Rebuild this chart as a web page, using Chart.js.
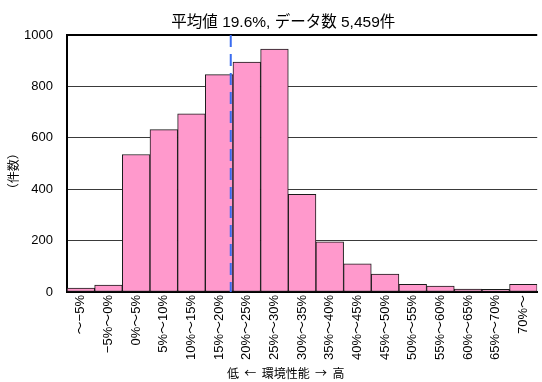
<!DOCTYPE html>
<html lang="ja">
<head>
<meta charset="utf-8">
<title>環境性能 分布</title>
<script src="https://cdn.jsdelivr.net/npm/chart.js@4/dist/chart.umd.min.js"></script>
<style>
  html, body { margin: 0; padding: 0; background: #fff; }
  canvas { display: block; }
</style>
</head>
<body>
<canvas id="histogram" width="542" height="382"></canvas>
<script>
// ---------------------------------------------------------------------
// DATA
// ---------------------------------------------------------------------
const categories = [
    '〜−5%', '−5%〜0%', '0%〜5%', '5%〜10%', '10%〜15%', '15%〜20%',
    '20%〜25%', '25%〜30%', '30%〜35%', '35%〜40%', '40%〜45%', '45%〜50%',
    '50%〜55%', '55%〜60%', '60%〜65%', '65%〜70%', '70%〜'
];
const counts = [15, 27, 535, 632, 693, 846, 895, 945, 380, 195, 110, 70, 30, 23, 11, 10, 30];
const yTicks = [0, 200, 400, 600, 800, 1000];

const meanValue = 19.6;      // %
const meanBinIndex = 5;      // the "15%〜20%" bin
const meanBinLow = 15;
const binSize = 5;

const titleText = '平均値 19.6%, データ数 5,459件';
const xTitleText = '低 ← 環境性能 → 高';
const yTitleText = '（件数）';

const FONT = '"Liberation Sans", Arial, "Noto Sans CJK JP", sans-serif';
const CJK_FONT = '"Noto Sans CJK JP", "Liberation Sans", sans-serif';

// ---------------------------------------------------------------------
// PLUGINS: mean line + text labels
// ---------------------------------------------------------------------
const meanLinePlugin = {
    id: 'meanLine',
    afterDatasetsDraw(chart) {
        const xs = chart.scales.x;
        const area = chart.chartArea;
        const binW = xs.getPixelForValue(1) - xs.getPixelForValue(0);
        const x = xs.getPixelForValue(meanBinIndex) + ((meanValue - meanBinLow) / binSize - 0.5) * binW;
        const ctx = chart.ctx;
        ctx.save();
        ctx.strokeStyle = '#3a6cf0';
        ctx.lineWidth = 2;
        ctx.setLineDash([12, 7]);
        ctx.beginPath();
        ctx.moveTo(x, area.top);
        ctx.lineTo(x, area.bottom);
        ctx.stroke();
        ctx.restore();
    }
};

const textPlugin = {
    id: 'texts',
    afterDraw(chart) {
        const ctx = chart.ctx;
        const area = chart.chartArea;
        const w = area.right - area.left;
        ctx.save();
        ctx.fillStyle = '#000';
        ctx.textAlign = 'center';
        ctx.textBaseline = 'middle';

        // main title
        ctx.font = '15.5px ' + FONT;
        ctx.fillText(titleText, area.left + w * 0.46, 23);

        // x axis title
        ctx.font = '12px ' + CJK_FONT;
        ctx.fillText(xTitleText.replace(/ /g, '  '), area.left + w * 0.465, 373);

        // y axis title (rotated)
        ctx.translate(13, area.top + (area.bottom - area.top) * 0.53);
        ctx.rotate(-Math.PI / 2);
        ctx.fillText(yTitleText, 0, 0);
        ctx.restore();
    }
};

// ---------------------------------------------------------------------
// CHART
// ---------------------------------------------------------------------
new Chart(document.getElementById('histogram'), {
    type: 'bar',
    data: {
        labels: categories,
        datasets: [{
            data: counts,
            backgroundColor: '#ff99cc',
            borderColor: '#1a1a1a',
            borderWidth: 1,
            borderSkipped: false,
            barPercentage: 1,
            categoryPercentage: 1
        }]
    },
    options: {
        responsive: false,
        animation: false,
        layout: { padding: { top: 35, right: 0, left: 0, bottom: 0 } },
        plugins: {
            legend: { display: false },
            title: { display: false },
            tooltip: { enabled: false }
        },
        scales: {
            x: {
                grid: { display: false, drawTicks: false },
                border: { display: true, color: '#000', width: 2 },
                ticks: {
                    color: '#000',
                    font: { family: FONT, size: 13 },
                    minRotation: 90,
                    maxRotation: 90,
                    padding: 3,
                    autoSkip: false
                },
                afterFit: s => { s.height = 90; }
            },
            y: {
                min: 0,
                max: 1000,
                afterBuildTicks: s => { s.ticks = yTicks.map(v => ({ value: v })); },
                grid: {
                    drawTicks: false,
                    color: ctx => ctx.tick && ctx.tick.value === 1000 ? '#000' : '#3a3a3a',
                    lineWidth: ctx => ctx.tick && ctx.tick.value === 1000 ? 2 : 1
                },
                border: { display: true, color: '#000', width: 2 },
                ticks: {
                    color: '#000',
                    font: { family: FONT, size: 13 },
                    padding: 14,
                    callback: v => String(v)
                },
                afterFit: s => { s.width = 67; }
            }
        }
    },
    plugins: [meanLinePlugin, textPlugin]
});
</script>
</body>
</html>
